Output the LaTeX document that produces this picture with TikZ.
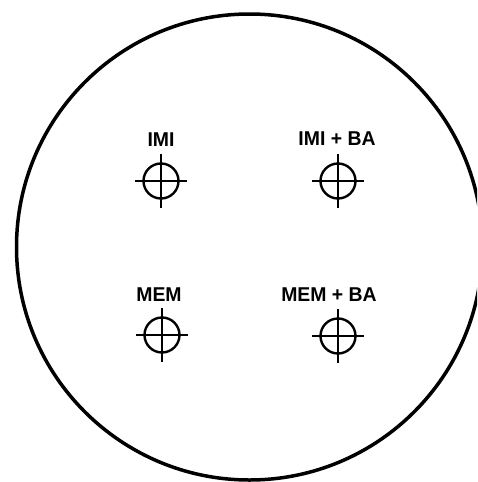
\documentclass[tikz,border=0pt]{standalone}
\usepackage{fontspec}
\setmainfont{Liberation Sans}
\begin{document}
\begin{tikzpicture}[x=1pt,y=-1pt,
  target/.style={circle,draw,line width=2.4pt,minimum size=35pt,inner sep=0pt},
  lbl/.style={font=\fontsize{20}{23}\selectfont\bfseries,inner sep=0pt,anchor=center,xscale=0.97},
  cross/.style={line width=1.3pt}]
\useasboundingbox (0,0) rectangle (477,482);
\clip (0,0) rectangle (477,482);
\node[circle,draw,line width=3.5pt,minimum size=466pt,inner sep=0pt] (outer) at (249.5,247) {};
\node[target] (t1) at (161,181) {};
\node[target] (t2) at (338,181) {};
\node[target] (t3) at (162,335) {};
\node[target] (t4) at (338,336) {};
\foreach \t in {t1,t2,t3,t4}{
  \draw[cross] ([xshift=-26pt]\t.center) -- ([xshift=26pt]\t.center);
  \draw[cross] ([yshift=27pt]\t.center) -- ([yshift=-27pt]\t.center);
}
\node[lbl] (l1) at (161,140) {IMI};
\node[lbl] (l2) at (337,139) {IMI + BA};
\node[lbl] (l3) at (159,295) {MEM};
\node[lbl] (l4) at (329,295) {MEM + BA};
\end{tikzpicture}
\end{document}
